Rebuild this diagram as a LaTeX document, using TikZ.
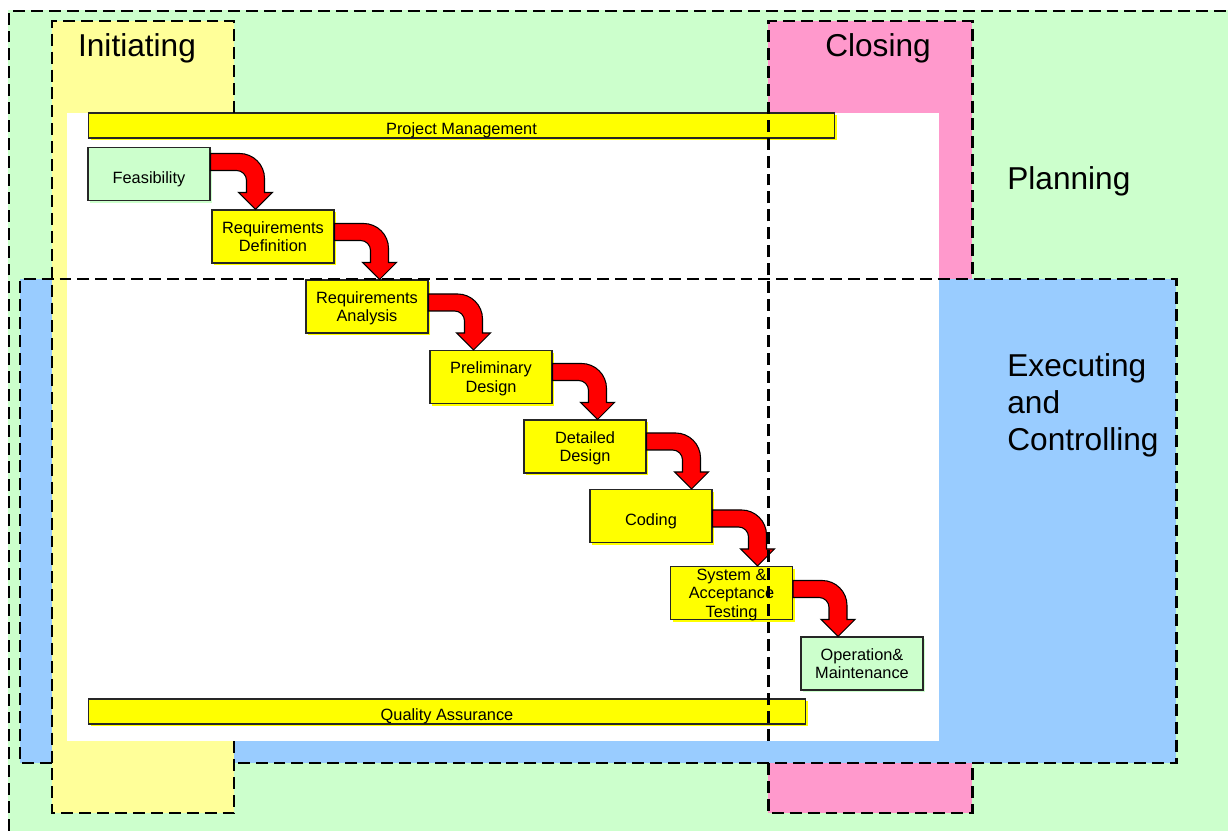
\documentclass[tikz,border=0pt]{standalone}
\usepackage{fontspec}
\setmainfont{Liberation Sans}
\usepackage{xcolor}
\usetikzlibrary{shadows}

\definecolor{planbg}{HTML}{CCFFCC}
\definecolor{initbg}{HTML}{FFFF99}
\definecolor{closebg}{HTML}{FF99CC}
\definecolor{execbg}{HTML}{99CCFF}
\definecolor{stepyellow}{HTML}{FFFF00}
\definecolor{stepgreen}{HTML}{CCFFCC}

\begin{document}
\begin{tikzpicture}[x=0.02cm, y=-0.02cm,
    groupedge/.style={line width=1.7pt, dash pattern=on 6.8pt off 3.4pt},
    shadowed/.style={drop shadow={shadow xshift=1.4pt, shadow yshift=-1.4pt, fill=#1, opacity=1}},
    phase/.style={draw=black!85, line width=0.6pt, fill=#1, shadowed=#1,
        minimum width=2.44cm, minimum height=1.06cm, inner sep=0pt,
        align=center, font=\fontsize{9.3}{10.6}\selectfont, text depth=0pt,
        execute at begin node={\rule{0pt}{10.5pt}}},
    phase/.default=stepyellow,
    taskbar/.style={phase, minimum height=0.5cm},
    phaselabel/.style={inner sep=0pt, font=\fontsize{18}{21}\selectfont},
    pics/bend/.style={code={
        \filldraw[fill=red, draw=black, line width=0.6pt, shift={(0,-56)}]
            (0,0) -- (29,0) .. controls (42.8,0) and (54,11.2) .. (54,25)
            -- (54,39) -- (62,39) -- (45,56) -- (28,39) -- (36,39) -- (36,27)
            .. controls (36,21.5) and (31.5,17) .. (26,17) -- (0,17) -- cycle;
    }}
]
\useasboundingbox (0,0) rectangle (1228,831);
\clip (0,0) rectangle (1228,831);

% process groups
\fill[planbg] (8,10) rectangle (1228,831);
\fill[closebg] (768,21) rectangle (972,813);
\fill[execbg] (20,279) rectangle (1176,763);
\fill[initbg] (52,21) rectangle (234,813);
\fill[white] (67,113) rectangle (939,741);

\node[phaselabel, anchor=base] (init) at (137,57) {Initiating};
\node[phaselabel, anchor=base] (clos) at (878,57) {Closing};
\node[phaselabel, anchor=base west] (plan) at (1007,190) {Planning};
\node[phaselabel, anchor=north west, align=left] (exec) at (1007,353) {Executing\\and\\Controlling};

% life cycle
\node[taskbar, minimum width=14.94cm] (pm) at (461.5,125.5) {Project Management};
\node[taskbar, minimum width=14.36cm] (qa) at (447,711.5) {Quality Assurance};

\node[phase=stepgreen] (feas) at (149,174) {Feasibility};
\node[phase] (rdef) at (273,236.5) {Requirements\\Definition};
\node[phase] (rana) at (367,306.5) {Requirements\\Analysis};
\node[phase] (pdes) at (491,377) {Preliminary\\Design};
\node[phase] (ddes) at (585,446.5) {Detailed\\Design};
\node[phase] (code) at (651,516) {Coding};
\node[phase] (test) at (731.5,593) {System \&\\Acceptance\\Testing};
\node[phase=stepgreen] (oper) at (862,663.5) {Operation\&\\Maintenance};

\pic at (feas.east |- rdef.north) {bend};
\pic at (rdef.east |- rana.north) {bend};
\pic at (rana.east |- pdes.north) {bend};
\pic at (pdes.east |- ddes.north) {bend};
\pic at (ddes.east |- code.north) {bend};
\pic at (code.east |- test.north) {bend};
\pic at (test.east |- oper.north) {bend};

% dashed outlines
\draw[groupedge] (9,831) -- (9,11) -- (1228,11);
\draw[groupedge] (234,113) -- (234,21) -- (52,21) -- (52,813) -- (234,813) -- (234,741);
\draw[groupedge] (768,741) -- (768,21) -- (972,21) -- (972,279);
\draw[groupedge] (768,763) -- (768,813) -- (972,813) -- (972,763);
\draw[groupedge] (52,763) -- (20,763) -- (20,279) -- (1176,279) -- (1176,763) -- (234,763);
\end{tikzpicture}
\end{document}
